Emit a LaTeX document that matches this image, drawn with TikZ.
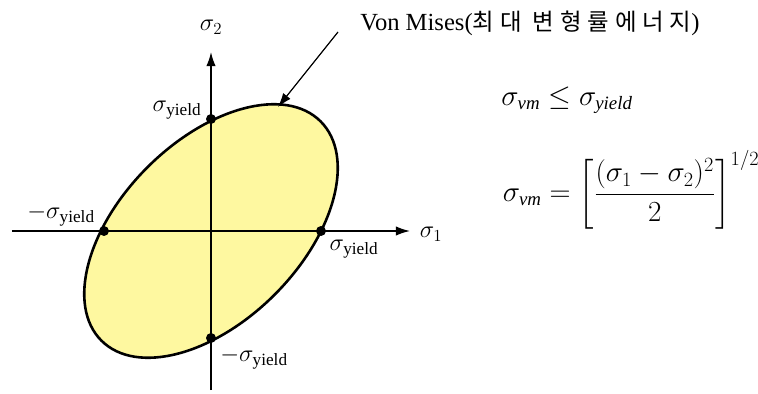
\documentclass[tikz,border=0pt]{standalone}
\usepackage{amsmath}
\usepackage{fontspec}
\setmainfont{Liberation Serif}
\newfontfamily\krfont[LetterSpace=25]{Noto Sans CJK KR}
\usetikzlibrary{arrows.meta}
\definecolor{yieldfill}{RGB}{254,248,160}

\begin{document}
\begin{tikzpicture}[x=0.03cm, y=0.03cm,
    lbl/.style={font=\fontsize{21}{24}\selectfont, inner sep=0pt},
    eqn/.style={font=\fontsize{23}{26}\selectfont, inner sep=0pt},
    axis/.style={line width=1.3pt, -{Latex[length=12pt, width=8pt]}},
    dot/.style={circle, fill=black, inner sep=0pt, minimum size=8.5pt}]
  \useasboundingbox (-211,-162) rectangle (547,231);

  % Draw yield surface
  \draw[line width=2.2pt, fill=yieldfill, rotate=45] (0,0) ellipse (155 and 90);

  % Draw axes
  \coordinate (xs) at (-199,0);
  \coordinate (xe) at (199,0);
  \coordinate (ys) at (0,-159);
  \coordinate (ye) at (0,179);
  \draw[axis] (xs) -- (xe);
  \draw[axis] (ys) -- (ye);
  \node[lbl] (s1) at (220,-3) {$\sigma_1$};
  \node[lbl] (s2) at (0,204) {$\sigma_2$};

  % Draw yield points
  \node[dot] (ptop) at (0,112) {};
  \node[dot] (pright) at (110,0) {};
  \node[dot] (pleft) at (-107,0) {};
  \node[dot] (pbot) at (0,-107) {};
  \node[lbl] (ltop) at (-34,121) {$\sigma_{\text{yield}}$};
  \node[lbl] (lright) at (143,-18) {$\sigma_{\text{yield}}$};
  \node[lbl] (lleft) at (-150,16) {$-\sigma_{\text{yield}}$};
  \node[lbl] (lbot) at (43,-127) {$-\sigma_{\text{yield}}$};

  % Von Mises label
  \node[font=\fontsize{21}{24}\selectfont, inner sep=0pt] (vm) at (319,208)
    {Von Mises({\krfont\fontsize{20}{24}\selectfont 최대 변형률에너지})};
  \coordinate (vmtip) at (67,124);
  \draw[line width=1pt, -{Latex[length=12pt, width=8pt]}] (127,199) -- (vmtip);

  % Criterion
  \node[eqn] (eqa) at (356,131) {$\sigma_{\mathit{vm}} \le \sigma_{\mathit{yield}}$};
  \node[eqn] (eqb) at (420,41)
    {$\sigma_{\mathit{vm}} = \left[\dfrac{(\sigma_1-\sigma_2)^2}{2}\right]^{1/2}$};
\end{tikzpicture}
\end{document}
